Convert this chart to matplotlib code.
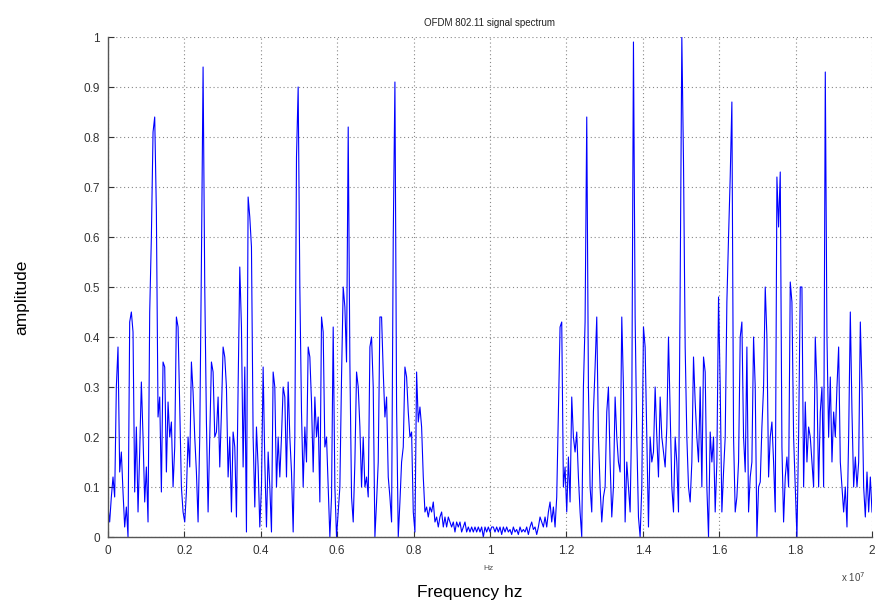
import numpy as np
import matplotlib
matplotlib.use("Agg")
import matplotlib.pyplot as plt

# magnitude of the OFDM spectrum, read in six consecutive bands
band_a = [0.06, 0.03, 0.08, 0.12, 0.08, 0.30, 0.38, 0.13, 0.17, 0.09,
          0.02, 0.06, 0.00, 0.43, 0.45, 0.41, 0.09, 0.22, 0.05, 0.17,
          0.31, 0.20, 0.07, 0.14, 0.03, 0.45, 0.60, 0.81, 0.84, 0.65,
          0.24, 0.28, 0.09, 0.35, 0.34, 0.13, 0.27, 0.20, 0.23, 0.10,
          0.18, 0.44, 0.42, 0.26, 0.10, 0.05, 0.03, 0.09, 0.20, 0.14,
          0.35, 0.29, 0.20, 0.13, 0.03, 0.20, 0.55, 0.94, 0.50, 0.23,
          0.05, 0.20, 0.35, 0.33, 0.20, 0.21, 0.28, 0.14, 0.25, 0.38,
          0.36, 0.30, 0.12, 0.20, 0.05, 0.21, 0.18]
band_b = [0.04, 0.30, 0.54, 0.42, 0.14, 0.34, 0.01, 0.68, 0.64, 0.58,
          0.20, 0.06, 0.22, 0.14, 0.02, 0.10, 0.34, 0.15, 0.02, 0.17,
          0.10, 0.01, 0.33, 0.30, 0.10, 0.20, 0.12, 0.20, 0.30, 0.28,
          0.12, 0.31, 0.20, 0.13, 0.01, 0.20, 0.76, 0.90, 0.50, 0.25,
          0.10, 0.22, 0.15, 0.38, 0.36, 0.27, 0.13, 0.28, 0.20, 0.24,
          0.07, 0.44, 0.41, 0.18, 0.20, 0.10, 0.00, 0.08, 0.42, 0.10,
          0.00, 0.05, 0.10, 0.32, 0.50, 0.46, 0.35, 0.82, 0.35, 0.08,
          0.03, 0.15, 0.33, 0.30, 0.22, 0.10, 0.20]
band_c = [0.10, 0.12, 0.08, 0.38, 0.40, 0.30, 0.00, 0.07, 0.15, 0.44,
          0.44, 0.33, 0.24, 0.28, 0.12, 0.08, 0.03, 0.60, 0.91, 0.26,
          0.00, 0.07, 0.15, 0.18, 0.34, 0.32, 0.25, 0.20, 0.21, 0.05,
          0.01, 0.33, 0.23, 0.26, 0.22, 0.12, 0.05, 0.06, 0.04, 0.06,
          0.05, 0.07, 0.03, 0.04, 0.02, 0.04, 0.05, 0.02, 0.04, 0.02,
          0.04, 0.03, 0.02, 0.03, 0.01, 0.03, 0.02, 0.03, 0.01, 0.02,
          0.03, 0.01, 0.02, 0.01, 0.02, 0.01, 0.02, 0.01, 0.02, 0.01,
          0.02, 0.00, 0.02, 0.01, 0.02, 0.01, 0.02]
band_d = [0.02, 0.01, 0.02, 0.01, 0.02, 0.005, 0.02, 0.01, 0.02, 0.01,
          0.015, 0.005, 0.02, 0.01, 0.015, 0.005, 0.02, 0.01, 0.015, 0.01,
          0.02, 0.005, 0.02, 0.03, 0.015, 0.02, 0.005, 0.02, 0.04, 0.03,
          0.02, 0.04, 0.02, 0.05, 0.07, 0.03, 0.06, 0.02, 0.08, 0.25,
          0.42, 0.43, 0.10, 0.14, 0.05, 0.16, 0.07, 0.28, 0.20, 0.17,
          0.21, 0.12, 0.05, 0.00, 0.30, 0.43, 0.84, 0.30, 0.10, 0.05,
          0.25, 0.34, 0.44, 0.20, 0.10, 0.03, 0.08, 0.10, 0.25, 0.30,
          0.15, 0.04, 0.10, 0.28, 0.20, 0.15]
band_e = [0.13, 0.44, 0.30, 0.03, 0.15, 0.10, 0.05, 0.25, 0.99, 0.44,
          0.20, 0.04, 0.00, 0.10, 0.42, 0.38, 0.20, 0.02, 0.20, 0.15,
          0.17, 0.30, 0.20, 0.12, 0.28, 0.20, 0.17, 0.14, 0.22, 0.40,
          0.25, 0.10, 0.05, 0.20, 0.15, 0.05, 0.50, 1.00, 0.75, 0.38,
          0.20, 0.10, 0.07, 0.15, 0.36, 0.27, 0.20, 0.15, 0.30, 0.10,
          0.36, 0.33, 0.10, 0.00, 0.21, 0.15, 0.20, 0.05, 0.15, 0.48,
          0.30, 0.05, 0.13, 0.20, 0.47, 0.60, 0.72, 0.87, 0.20, 0.05,
          0.08, 0.15, 0.40, 0.43, 0.20, 0.13, 0.38]
band_f = [0.05, 0.12, 0.15, 0.40, 0.30, 0.00, 0.10, 0.11, 0.22, 0.30,
          0.50, 0.40, 0.12, 0.20, 0.23, 0.15, 0.05, 0.72, 0.62, 0.73,
          0.18, 0.03, 0.12, 0.16, 0.10, 0.51, 0.47, 0.20, 0.10, 0.00,
          0.20, 0.50, 0.50, 0.10, 0.27, 0.15, 0.22, 0.20, 0.15, 0.10,
          0.40, 0.30, 0.10, 0.25, 0.30, 0.10, 0.93, 0.40, 0.20, 0.32,
          0.15, 0.25, 0.20, 0.30, 0.38, 0.15, 0.10, 0.05, 0.10, 0.02,
          0.20, 0.45, 0.25, 0.10, 0.16, 0.10, 0.15, 0.43, 0.30, 0.10,
          0.04, 0.13, 0.05, 0.12, 0.05]

fmax = 2e7
xticks = [0, 0.2e7, 0.4e7, 0.6e7, 0.8e7, 1e7, 1.2e7, 1.4e7, 1.6e7, 1.8e7, 2e7]
xticklabels = ['0', '0.2', '0.4', '0.6', '0.8', '1', '1.2', '1.4', '1.6', '1.8', '2']
yticks = [0, 0.1, 0.2, 0.3, 0.4, 0.5, 0.6, 0.7, 0.8, 0.9, 1]
yticklabels = ['0', '0.1', '0.2', '0.3', '0.4', '0.5', '0.6', '0.7', '0.8', '0.9', '1']

amp = np.concatenate([band_a, band_b, band_c, band_d, band_e, band_f])
freq = np.linspace(0, fmax, len(amp))

plt.rcParams['font.family'] = ['Liberation Sans', 'DejaVu Sans']

fig = plt.figure(figsize=(8.75, 6.04), dpi=100)
ax = fig.add_axes([108 / 875, 67 / 604, 764 / 875, 500 / 604])

ax.plot(freq, amp, color='#0000ff', linewidth=0.8)

ax.set_xlim(0, fmax)
ax.set_ylim(0, 1)
ax.set_xticks(xticks)
ax.set_xticklabels(xticklabels)
ax.set_yticks(yticks)
ax.set_yticklabels(yticklabels)
ax.tick_params(direction='in', length=4, width=0.8, colors='#333333',
               labelsize=8.5, pad=6)
ax.grid(True, color='#888888', linestyle=(0, (1, 2.5)), linewidth=0.8)

for side in ['top', 'right']:
    ax.spines[side].set_visible(False)
for side in ['left', 'bottom']:
    ax.spines[side].set_color('#555555')
    ax.spines[side].set_linewidth(1.0)

ax.set_title('OFDM 802.11 signal spectrum', fontsize=7, color='#222222', pad=8)
fig.text(470 / 875, 1 - 592 / 604, 'Frequency hz', fontsize=12.5,
         ha='center', va='center')
fig.text(22 / 875, 1 - 297 / 604, 'amplitude', fontsize=12.5, rotation=90,
         ha='center', va='center')
fig.text(489 / 875, 1 - 568 / 604, 'Hz', fontsize=6, color='#555555',
         ha='center', va='center')
fig.text(853 / 875, 1 - 577 / 604, r'x 10$^{7}$', fontsize=7, color='#444444',
         ha='center', va='center')

fig.savefig('out.png', dpi=100)
